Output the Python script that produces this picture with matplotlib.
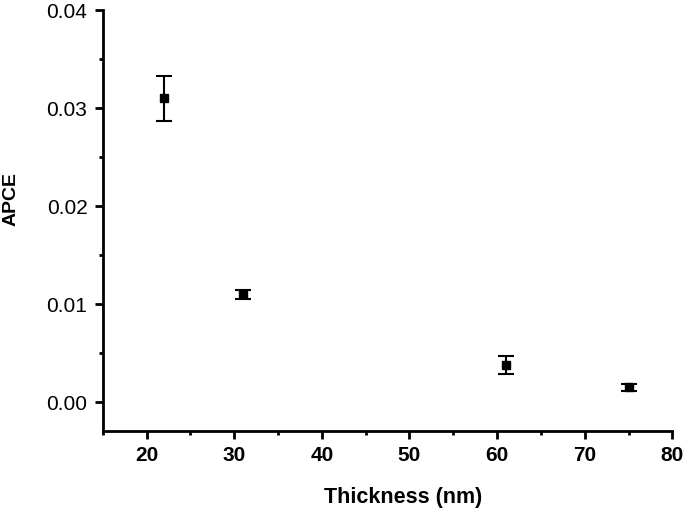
import matplotlib
matplotlib.use("Agg")
import matplotlib.pyplot as plt
from matplotlib.ticker import MultipleLocator

plt.rcParams['font.family'] = ['Liberation Sans', 'DejaVu Sans']

thickness = [22, 31, 61, 75]
apce = [0.0310, 0.0110, 0.0038, 0.00155]
apce_err = [0.0023, 0.0005, 0.00095, 0.00035]

fig = plt.figure(figsize=(6.85, 5.08), dpi=100)
ax = fig.add_axes([0.150, 0.152, 0.8315, 0.828])

ax.errorbar(thickness, apce, yerr=apce_err, fmt='s', color='black',
            markersize=6, capsize=6, elinewidth=1.5, capthick=1.5)

ax.set_xlim(15, 80)
ax.set_ylim(-0.0029, 0.04)
ax.xaxis.set_major_locator(MultipleLocator(10))
ax.xaxis.set_minor_locator(MultipleLocator(5))
ax.yaxis.set_major_locator(MultipleLocator(0.01))
ax.yaxis.set_minor_locator(MultipleLocator(0.005))
ax.yaxis.set_major_formatter(plt.FuncFormatter(lambda v, p: '%.2f' % v))

for s in ['top', 'right']:
    ax.spines[s].set_visible(False)
for s in ['left', 'bottom']:
    ax.spines[s].set_linewidth(2)

ax.tick_params(which='major', direction='out', length=6, width=2, labelsize=15, pad=5)
ax.tick_params(which='minor', direction='out', length=3, width=2)
for lab in ax.get_xticklabels():
    lab.set_fontweight('bold')

ax.set_xlabel('Thickness (nm)', fontsize=15.5, fontweight='bold')
ax.set_ylabel('APCE', fontsize=14, fontweight='bold')
ax.xaxis.set_label_coords(0.528, -0.133)
ax.yaxis.set_label_coords(-0.146, 0.552)

fig.savefig('out.png', dpi=100)
